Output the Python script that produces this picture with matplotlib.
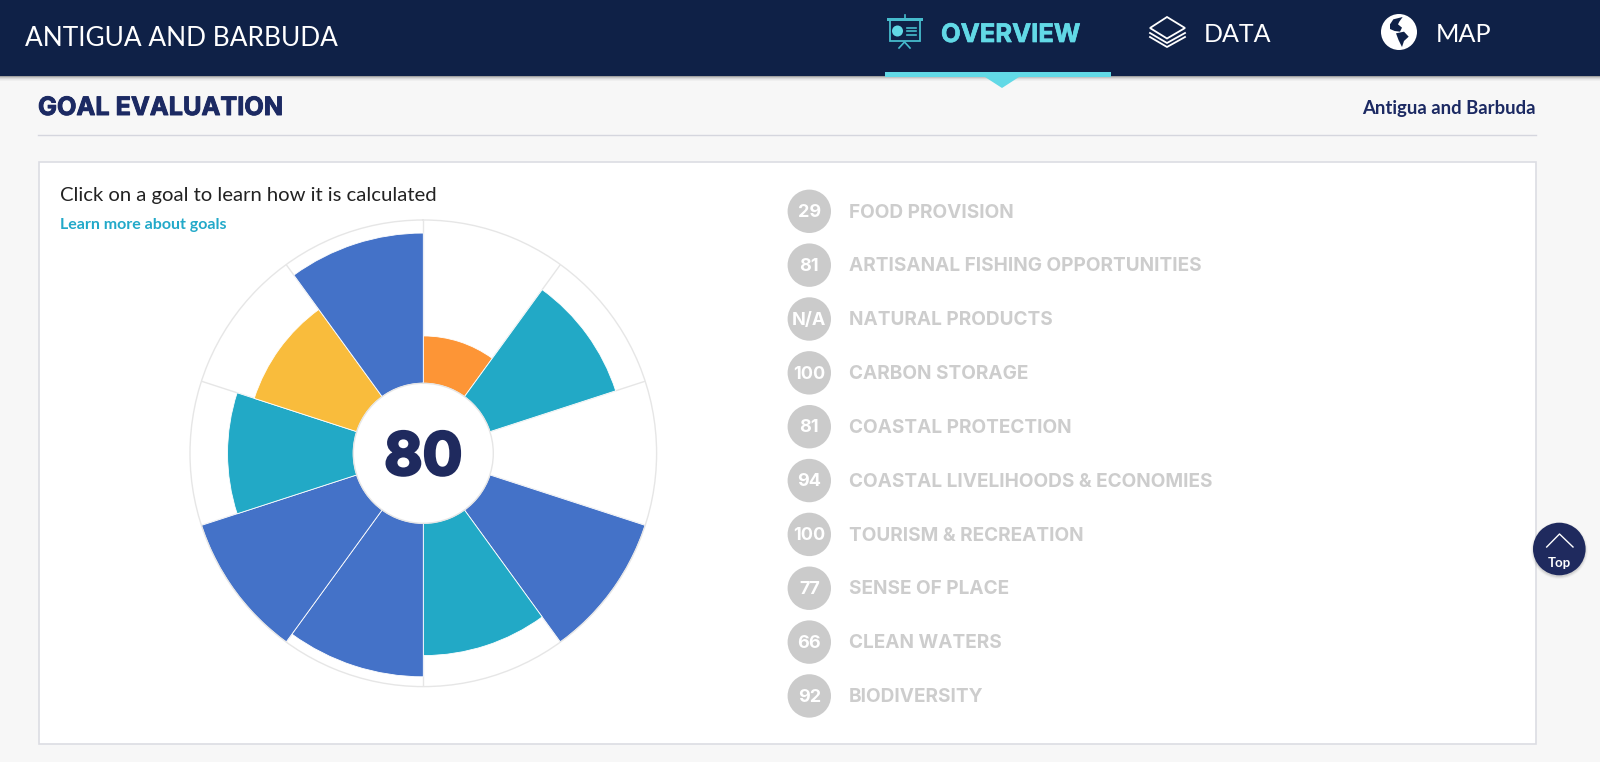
#!/usr/bin/env python3
# goal evaluation page, flower plot with the list of goals
import numpy as np
import matplotlib
matplotlib.use('Agg')
import matplotlib.pyplot as plt
import matplotlib.patheffects as pe
from matplotlib.patches import Circle, Rectangle, Polygon

# data
goal_names = ['FOOD PROVISION', 'ARTISANAL FISHING OPPORTUNITIES', 'NATURAL PRODUCTS',
              'CARBON STORAGE', 'COASTAL PROTECTION', 'COASTAL LIVELIHOODS & ECONOMIES',
              'TOURISM & RECREATION', 'SENSE OF PLACE', 'CLEAN WATERS', 'BIODIVERSITY']
goal_scores = [29, 81, np.nan, 100, 81, 94, 100, 77, 66, 92]
petal_colors = ['#fd9536', '#22a9c6', '#ffffff', '#4472c8', '#22a9c6',
                '#4472c8', '#4472c8', '#22a9c6', '#f9bc3c', '#4472c8']
overall_score = 80

NAVY = '#0f2147'
DARK = '#1f2a5e'
CYAN = '#62d9e6'

W, H = 1600, 762
fig = plt.figure(figsize=(W / 100, H / 100), dpi=100, facecolor='#f7f7f7')

# page axes in pixels
page = fig.add_axes([0, 0, 1, 1])
page.set_xlim(0, W)
page.set_ylim(H, 0)
page.axis('off')


def put(x, y, s, size, color, weight='normal', ha='left', family='Lato', stroke=0):
    t = page.text(x, y, s, fontsize=size, color=color, fontweight=weight, ha=ha,
                  va='center_baseline', family=family, zorder=10)
    if stroke:
        t.set_path_effects([pe.withStroke(linewidth=stroke, foreground=color)])


# header
page.add_patch(Rectangle((0, 0), W, 76, fc=NAVY, ec='none', zorder=3))
for i, a in enumerate([0.35, 0.2, 0.12, 0.06, 0.03]):
    page.add_patch(Rectangle((0, 76 + i), W, 1, fc='black', ec='none', alpha=a, zorder=2))
page.add_patch(Rectangle((885, 72), 226, 5, fc=CYAN, ec='none', zorder=4))
page.add_patch(Polygon([(985, 77), (1019, 77), (1002, 88)], fc=CYAN, ec='none', zorder=4))
put(25, 36, 'ANTIGUA AND BARBUDA', 18.9, 'white')
put(941, 33, 'OVERVIEW', 18.4, CYAN, 'bold', family='Inter', stroke=0.5)
put(1204, 33, 'DATA', 18, 'white')
put(1436, 33, 'MAP', 18.2, 'white')

# overview icon
ICON = '#46bccd'
page.add_patch(Rectangle((887, 18), 36, 2.5, fc=ICON, ec='none', zorder=5))
page.add_patch(Rectangle((889.5, 20), 30.5, 21, fc='none', ec=ICON, lw=1.3, zorder=5))
page.plot([904.7, 904.7], [15, 19], color=ICON, lw=1.2, zorder=5)
page.plot([899, 904.5, 910], [48, 42, 48], color=ICON, lw=1.2, zorder=5)
page.add_patch(Circle((897.5, 31), 5.5, fc=CYAN, ec='none', zorder=5))
for yy in (27.7, 31, 35):
    page.plot([907, 916], [yy, yy], color=ICON, lw=1.2, zorder=5)

# data icon, three stacked sheets
page.plot([1150, 1167, 1185], [37, 47, 37], color='white', lw=1.3, zorder=5)
page.plot([1150, 1167, 1185], [33, 43, 33], color='white', lw=1.3, zorder=5)
page.add_patch(Polygon([(1150, 28), (1167, 17), (1185, 28), (1167, 38.5)],
                       fc=NAVY, ec='white', lw=1.3, zorder=5))

# map icon
page.add_patch(Circle((1399, 32), 18, fc='white', ec='none', zorder=5))
north = [(60, 58), (70, 43), (98, 36), (88, 50), (84, 58), (96, 68), (90, 80), (74, 78), (60, 72)]
south = [(78, 85), (102, 80), (116, 95), (102, 108), (96, 126), (86, 106)]
for shape in (north, south):
    page.add_patch(Polygon([(1370 + px / 3, 5 + py / 3) for px, py in shape],
                           fc=NAVY, ec='none', zorder=6))

# section title
put(38, 106, 'GOAL EVALUATION', 18.2, '#1c2a63', 'bold', family='Inter', stroke=0.7)
put(1536, 107, 'Antigua and Barbuda', 13.3, '#1c2a63', 'bold', ha='right')
page.plot([38, 1536], [134.5, 134.5], color='#d5d6de', lw=1)

# card
page.add_patch(Rectangle((38.5, 162), 1497.5, 581.5, fc='white', ec='#dcdde3', lw=1.2, zorder=1))
put(60, 194, 'Click on a goal to learn how it is calculated', 14.6, '#222222')
put(60, 224, 'Learn more about goals', 11.5, '#22a9c9', 'bold')

# flower plot, petals run clockwise from the top
cx, cy, r_out, r_in = 423.3, 453.3, 233.3, 70
ax = fig.add_axes([(cx - r_out) / W, 1 - (cy + r_out) / H, 2 * r_out / W, 2 * r_out / H],
                  projection='polar', facecolor='white')
n = len(goal_scores)
angles = np.arange(n) * 2 * np.pi / n
ax.set_theta_zero_location('N')
ax.set_theta_direction(-1)
ax.bar(angles, np.nan_to_num(goal_scores), width=2 * np.pi / n, align='edge',
       color=petal_colors, edgecolor='white', linewidth=0.6)
ax.set_ylim(0, 100)
ax.set_rorigin(-100 * r_in / (r_out - r_in))
ax.set_xticks(angles)
ax.set_yticks([])
ax.set_xticklabels([])
ax.grid(True, color='#e6e6e6', lw=1)
ax.set_axisbelow(True)
ax.tick_params(length=0)
for s in ax.spines.values():
    s.set_color('#e6e6e6')
    s.set_linewidth(1)
center = ax.text(0, -100 * r_in / (r_out - r_in), str(overall_score), ha='center',
                 va='center_baseline', fontsize=42.5, fontweight='bold', color=DARK, family='Inter')
center.set_path_effects([pe.withStroke(linewidth=2, foreground=DARK)])

# goal list
for i, (name, score) in enumerate(zip(goal_names, goal_scores)):
    y = 210.5 + i * 53.85
    page.add_patch(Circle((809.3, y + 0.8), 21.7, fc='#cbcbcb', ec='none', zorder=5))
    label = 'N/A' if np.isnan(score) else str(score)
    put(809.3, y, label, 13, 'white', 'bold', ha='center', family='Inter')
    put(849, y, name, 13.7, '#cdcdcd', 'bold', family='Inter')

# back to top button
for i, a in enumerate([0.03, 0.05, 0.07]):
    page.add_patch(Circle((1559.3, 550.5), 28.5 - i, fc='black', ec='none', alpha=a, zorder=5))
page.add_patch(Circle((1559.3, 549), 26.3, fc=DARK, ec='none', zorder=6))
page.plot([1546.7, 1559.5, 1573], [547, 534, 547], color='white', lw=1, zorder=7)
put(1559.3, 562, 'Top', 9.5, 'white', 'bold', ha='center')

fig.savefig('out.png', dpi=100, facecolor=fig.get_facecolor())
